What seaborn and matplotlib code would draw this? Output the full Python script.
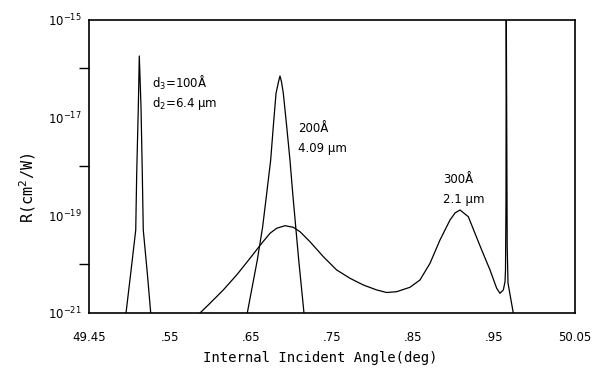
import numpy as np
import pandas as pd
import matplotlib
matplotlib.use("Agg")
import matplotlib.pyplot as plt
import seaborn as sns
from matplotlib.ticker import FixedLocator, FixedFormatter, LogFormatterMathtext, NullFormatter

# ---- data (angle in deg, log10 of R in cm^2/W) ----
ang_100 = [49.4957, 49.5015, 49.5077, 49.5089, 49.5109, 49.5121, 49.5142, 49.5158,
           49.5170, 49.5220, 49.5262]
logR_100 = [-21.0, -20.188, -19.303, -18.144, -16.783, -15.746, -16.783, -18.144,
            -19.303, -20.188, -21.0]

ang_200 = [49.6454, 49.6500, 49.6578, 49.6644, 49.6694, 49.6743, 49.6775, 49.6809,
           49.6839, 49.6858, 49.6877, 49.6899, 49.6941, 49.6981, 49.7015, 49.7052,
           49.7089, 49.7130, 49.7154]
logR_200 = [-21.0, -20.597, -19.916, -19.236, -18.553, -17.872, -17.191, -16.509,
            -16.278, -16.155, -16.278, -16.509, -17.191, -17.872, -18.553, -19.236,
            -19.916, -20.597, -21.0]

ang_300 = [49.5870, 49.5994, 49.6158, 49.6323, 49.6488, 49.6632, 49.6735, 49.6817,
           49.6920, 49.7022, 49.7105, 49.7228, 49.7393, 49.7558, 49.7722, 49.7886,
           49.8052, 49.8175, 49.8299, 49.8463, 49.8586, 49.8710, 49.8833, 49.8957,
           49.9019, 49.9080, 49.9183, 49.9265, 49.9348, 49.9451, 49.9533, 49.9574,
           49.9615, 49.9636, 49.9642, 49.9648, 49.9651, 49.9656, 49.9663, 49.9673,
           49.9738]
logR_300 = [-21.0, -20.801, -20.529, -20.223, -19.881, -19.575, -19.370, -19.268,
            -19.215, -19.248, -19.338, -19.542, -19.849, -20.121, -20.290, -20.427,
            -20.529, -20.581, -20.564, -20.474, -20.325, -19.984, -19.508, -19.099,
            -18.955, -18.894, -19.031, -19.370, -19.712, -20.121, -20.495, -20.597,
            -20.529, -20.360, -20.12, -18.69, -14.6, -16.65, -19.65, -20.39,
            -21.0]

xticks = [49.45, 49.55, 49.65, 49.75, 49.85, 49.95, 50.05]
xtick_labels = ["49.45", ".55", ".65", ".75", ".85", ".95", "50.05"]
yticks_major = [1e-21, 1e-19, 1e-17, 1e-15]
yticks_minor = [1e-20, 1e-18, 1e-16]

labels = [
    (49.5278, -16.30, "d$_3$=100Å"),
    (49.5278, -16.72, "d$_2$=6.4 μm"),
    (49.708, -17.22, "200Å"),
    (49.708, -17.63, "4.09 μm"),
    (49.887, -18.28, "300Å"),
    (49.887, -18.67, "2.1 μm"),
]

sns.set_theme(style="white")
plt.rcParams['font.family'] = ['DejaVu Sans']
plt.rcParams['mathtext.fontset'] = 'dejavusans'

fig = plt.figure(figsize=(6.03, 3.75), dpi=100)
ax = fig.add_axes([89/603, 1-313/375, (575-89)/603, (313-19.5)/375])

for a, l in [(ang_100, logR_100), (ang_200, logR_200), (ang_300, logR_300)]:
    df = pd.DataFrame({"angle": a, "R": 10.0 ** np.array(l)})
    sns.lineplot(data=df, x="angle", y="R", ax=ax, color="black", lw=0.9,
                 sort=False, estimator=None)

ax.set_yscale("log")
ax.set_xlim(49.45, 50.05)
ax.set_ylim(1e-21, 1e-15)

ax.xaxis.set_major_locator(FixedLocator(xticks))
ax.xaxis.set_major_formatter(FixedFormatter(xtick_labels))
ax.yaxis.set_major_locator(FixedLocator(yticks_major))
ax.yaxis.set_major_formatter(LogFormatterMathtext())
ax.yaxis.set_minor_locator(FixedLocator(yticks_minor))
ax.yaxis.set_minor_formatter(NullFormatter())

ax.tick_params(axis="both", which="both", direction="out", length=7, width=1.0,
               color="black", labelsize=8.5, labelcolor="black")
ax.tick_params(axis="x", pad=6)
ax.tick_params(axis="y", pad=-2)
ax.tick_params(axis="y", which="minor", left=True)

for s in ax.spines.values():
    s.set_color("black")
    s.set_linewidth(1.2)
    s.set_visible(True)

for x, ly, t in labels:
    ax.text(x, 10.0 ** ly, t, fontsize=8.5, ha="left", va="center", color="black")

ax.set_xlabel("Internal Incident Angle(deg)", fontsize=10, family="DejaVu Sans Mono",
              color="black")
ax.xaxis.set_label_coords(0.475, -0.13)
ax.set_ylabel("R(cm$^2$/W)", fontsize=11, family="DejaVu Sans Mono", color="black")
ax.yaxis.set_label_coords(-0.105, 0.426)

fig.savefig("out.png", dpi=100, facecolor="white")
